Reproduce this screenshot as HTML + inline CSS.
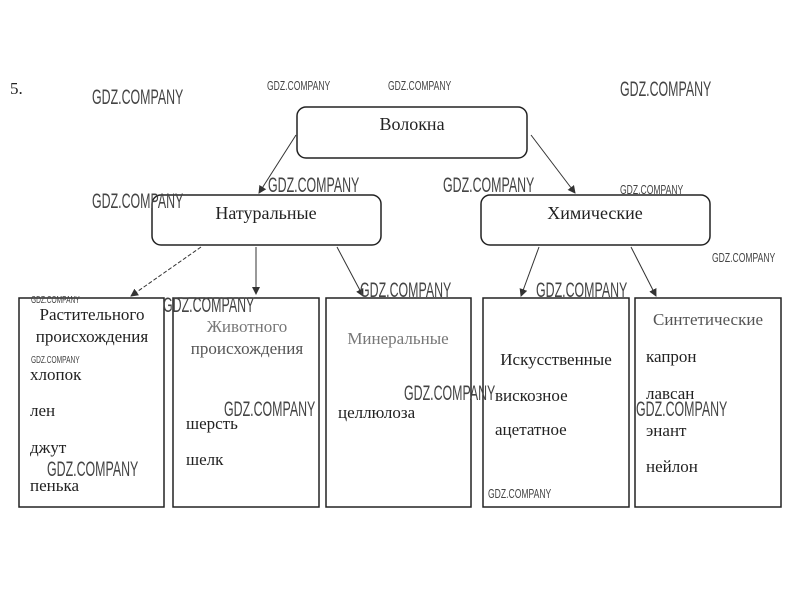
<!DOCTYPE html>
<html><head><meta charset="utf-8"><style>
body{margin:0;width:804px;height:607px;background:#fff;position:relative;overflow:hidden;font-family:"Liberation Serif","DejaVu Serif",serif;}
.t{position:absolute;font-size:17px;color:#222;white-space:nowrap;line-height:1;}
.c{transform:translateX(-50%);}
.w{position:absolute;font-family:"Liberation Sans",sans-serif;color:#444;white-space:nowrap;transform-origin:0 0;line-height:1;}
.b{font-size:21px;transform:scaleX(0.59);}
.s{font-size:13px;transform:scaleX(0.66);}
</style></head><body>
<svg width="804" height="607" style="position:absolute;left:0;top:0">
<defs><marker id="a" markerWidth="8" markerHeight="8" refX="7" refY="4" orient="auto"><path d="M0,0 L8,4 L0,8 z" fill="#333"/></marker></defs>
<g fill="none" stroke="#222" stroke-width="1.5">
<rect x="297" y="107" width="230" height="51" rx="9"/>
<rect x="152" y="195" width="229" height="50" rx="9"/>
<rect x="481" y="195" width="229" height="50" rx="9"/>
<rect x="19" y="298" width="145" height="209"/>
<rect x="173" y="298" width="146" height="209"/>
<rect x="326" y="298" width="145" height="209"/>
<rect x="483" y="298" width="146" height="209"/>
<rect x="635" y="298" width="146" height="209"/>
</g>
<g stroke="#333" stroke-width="1" fill="none" marker-end="url(#a)">
<line x1="296" y1="135" x2="259" y2="193"/>
<line x1="531" y1="135" x2="575" y2="193"/>
<line x1="201" y1="247" x2="131" y2="296" stroke-dasharray="4,2"/>
<line x1="256" y1="247" x2="256" y2="294"/>
<line x1="337" y1="247" x2="363" y2="296"/>
<line x1="539" y1="247" x2="521" y2="296"/>
<line x1="631" y1="247" x2="656" y2="296"/>
</g>
</svg>
<div class="t" style="left:10px;top:80px;font-size:17px">5.</div>
<div class="t c" style="left:412px;top:115px;font-size:18px">Волокна</div>
<div class="t c" style="left:266px;top:204px;font-size:18px">Натуральные</div>
<div class="t c" style="left:595px;top:204px;font-size:18px">Химические</div>

<div class="t c" style="left:92px;top:306px">Растительного</div>
<div class="t c" style="left:92px;top:328px">происхождения</div>
<div class="t" style="left:30px;top:366px">хлопок</div>
<div class="t" style="left:30px;top:402px">лен</div>
<div class="t" style="left:30px;top:439px">джут</div>
<div class="t" style="left:30px;top:477px">пенька</div>

<div class="t c" style="left:247px;top:318px;color:#777">Животного</div>
<div class="t c" style="left:247px;top:340px;color:#555">происхождения</div>
<div class="t" style="left:186px;top:415px">шерсть</div>
<div class="t" style="left:186px;top:451px">шелк</div>

<div class="t c" style="left:398px;top:330px;color:#777">Минеральные</div>
<div class="t" style="left:338px;top:404px">целлюлоза</div>

<div class="t c" style="left:556px;top:351px">Искусственные</div>
<div class="t" style="left:495px;top:387px">вискозное</div>
<div class="t" style="left:495px;top:421px">ацетатное</div>

<div class="t c" style="left:708px;top:311px;color:#555">Синтетические</div>
<div class="t" style="left:646px;top:348px">капрон</div>
<div class="t" style="left:646px;top:385px">лавсан</div>
<div class="t" style="left:646px;top:422px">энант</div>
<div class="t" style="left:646px;top:458px">нейлон</div>

<div class="w b" style="left:92px;top:87px">GDZ.COMPANY</div>
<div class="w s" style="left:267px;top:79px">GDZ.COMPANY</div>
<div class="w s" style="left:388px;top:79px">GDZ.COMPANY</div>
<div class="w b" style="left:620px;top:79px">GDZ.COMPANY</div>
<div class="w b" style="left:268px;top:175px">GDZ.COMPANY</div>
<div class="w b" style="left:443px;top:175px">GDZ.COMPANY</div>
<div class="w s" style="left:620px;top:183px">GDZ.COMPANY</div>
<div class="w b" style="left:92px;top:191px">GDZ.COMPANY</div>
<div class="w s" style="left:712px;top:251px">GDZ.COMPANY</div>
<div class="w b" style="left:360px;top:280px">GDZ.COMPANY</div>
<div class="w b" style="left:536px;top:280px">GDZ.COMPANY</div>
<div class="w s" style="left:31px;top:296px;font-size:10px">GDZ.COMPANY</div>
<div class="w b" style="left:163px;top:295px">GDZ.COMPANY</div>
<div class="w s" style="left:31px;top:356px;font-size:10px">GDZ.COMPANY</div>
<div class="w b" style="left:404px;top:383px">GDZ.COMPANY</div>
<div class="w b" style="left:224px;top:399px">GDZ.COMPANY</div>
<div class="w b" style="left:636px;top:399px">GDZ.COMPANY</div>
<div class="w b" style="left:47px;top:459px">GDZ.COMPANY</div>
<div class="w s" style="left:488px;top:487px">GDZ.COMPANY</div>
</body></html>
